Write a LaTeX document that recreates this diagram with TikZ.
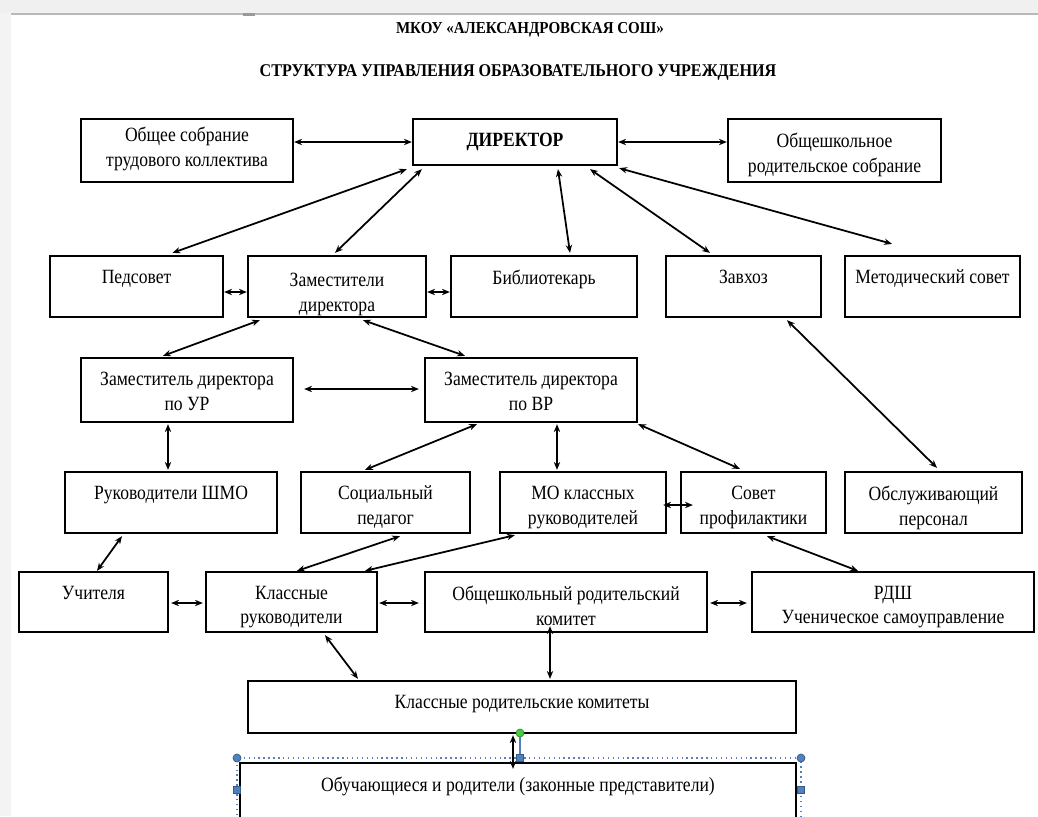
\documentclass[tikz,border=0pt]{standalone}
\usepackage{fontspec}
\setmainfont{Liberation Serif}
\newfontfamily\boxfont[FakeStretch=0.87]{Liberation Serif}
\newfontfamily\headfont[FakeStretch=0.9]{Liberation Serif}
\usetikzlibrary{shapes,arrows.meta}
\usetikzlibrary{calc}
\definecolor{selblue}{RGB}{79,129,189}
\definecolor{selgreen}{RGB}{70,205,60}
\definecolor{pagegray}{RGB}{243,243,243}
\tikzset{
  box/.style 2 args={draw, rectangle, line width=1.3pt, minimum width=#1*0.02cm, minimum height=#2*0.02cm, inner sep=0pt},
  txt/.style={anchor=north, yshift=-8pt, align=center, inner sep=0pt, font=\boxfont\fontsize{11.5}{14.2}\selectfont},
  head/.style={font=\headfont\bfseries\fontsize{9.5}{11}\selectfont, inner sep=0pt},
  grip/.style={draw=selblue!70!black, fill=selblue, line width=0.4pt}
}

\begin{document}
\begin{tikzpicture}[> = {Stealth[length=4.5pt,width=3.6pt]}, x=0.02cm, y=-0.02cm, line width=1pt]
        \useasboundingbox (0,0) rectangle (1038,816);
        \clip (0,0) rectangle (1038,816);
        % page
        \fill[white] (0,0) rectangle (1038,816);
        \fill[pagegray] (0,0) rectangle (11,816);
        \fill[gray!12] (0,0) rectangle (1038,13);
        \fill[gray!55] (11,12.5) rectangle (1038,14.5);
        \fill[gray!80] (243,12.5) rectangle (255,15.5);

        \node[head] (t_school) at (530,30) {МКОУ «АЛЕКСАНДРОВСКАЯ СОШ»};
        \node[head, font=\headfont\bfseries\fontsize{10.2}{11}\selectfont] (t_struct) at (518,72) {СТРУКТУРА УПРАВЛЕНИЯ ОБРАЗОВАТЕЛЬНОГО УЧРЕЖДЕНИЯ};

        % row 1
        \node[box={212}{63}, label={[txt,yshift=3pt]north:{Общее собрание\\трудового коллектива}}] (b_obsh) at (187,150.5) {};
        \node[box={204}{46}, label={[txt,font=\boxfont\bfseries\fontsize{11.5}{14.2}\selectfont]north:ДИРЕКТОР}] (b_dir) at (515,142) {};
        \node[box={213}{63}, label={[txt]north:{Общешкольное\\родительское собрание}}] (b_sobr) at (834.5,150.5) {};
        % row 2
        \node[box={173}{61}, label={[txt]north:Педсовет}] (b_ped) at (136.5,286.5) {};
        \node[box={178}{61}, label={[txt,yshift=-2pt]north:{Заместители\\директора}}] (b_zam) at (337,286.5) {};
        \node[box={186}{61}, label={[txt]north:Библиотекарь}] (b_bib) at (544,286.5) {};
        \node[box={155}{61}, label={[txt]north:Завхоз}] (b_zav) at (743.5,286.5) {};
        \node[box={175}{61}, label={[txt]north:Методический совет}] (b_met) at (932.5,286.5) {};
        % row 3
        \node[box={212}{64}, label={[txt]north:{Заместитель директора\\по УР}}] (b_ur) at (187,390) {};
        \node[box={212}{64}, label={[txt]north:{Заместитель директора\\по ВР}}] (b_vr) at (531,390) {};
        % row 4
        \node[box={212}{61}, label={[txt]north:Руководители ШМО}] (b_shmo) at (171,502.5) {};
        \node[box={169}{61}, label={[txt]north:{Социальный\\педагог}}] (b_soc) at (385.5,502.5) {};
        \node[box={166}{61}, label={[txt]north:{МО классных\\руководителей}}] (b_mo) at (583,502.5) {};
        \node[box={145}{61}, label={[txt]north:{Совет\\профилактики}}] (b_sov) at (753.5,502.5) {};
        \node[box={177}{61}, label={[txt]north:{Обслуживающий\\персонал}}] (b_obsl) at (933.5,502.5) {};
        % row 5
        \node[box={149}{60}, label={[txt]north:Учителя}] (b_uch) at (93.5,602) {};
        \node[box={171}{60}, label={[txt]north:{Классные\\руководители}}] (b_kr) at (291.5,602) {};
        \node[box={282}{60}, label={[txt]north:{Общешкольный родительский\\комитет}}] (b_okom) at (566,602) {};
        \node[box={282}{60}, label={[txt]north:{РДШ\\Ученическое самоуправление}}] (b_rdsh) at (893,602) {};
        % rows 6, 7
        \node[box={548}{52}, label={[txt]north:Классные родительские комитеты}] (b_krk) at (522,707) {};
        \node[box={556}{97}, label={[txt]north:Обучающиеся и родители (законные представители)}] (b_obuch) at (518,811.5) {};

        \path[<->] (b_dir.west -| b_obsh.east) edge (b_dir.west)
                   (b_dir.east)                edge (b_dir.east -| b_sobr.west)
                   ($(b_dir.south west)+(-5,3)$) edge ($(b_ped.north)+(36,-2)$)
                   ($(b_dir.south west)+(10,3)$) edge ($(b_zam.north)+(-2,-2)$)
                   ($(b_dir.south)+(43,3)$)      edge ($(b_bib.north)+(26,-2)$)
                   ($(b_dir.south)+(75,3)$)      edge ($(b_zav.north)+(-33.5,-2)$)
                   ($(b_dir.south east)+(1,2)$)  edge ($(b_met.north)+(-40.5,-11)$);
        \path[<->] ($(b_ped.east)+(0,5.5)$)      edge ($(b_zam.west)+(0,5.5)$)
                   ($(b_zam.east)+(0,5.5)$)      edge ($(b_bib.west)+(0,5.5)$)
                   ($(b_zam.south west)+(13,2)$) edge ($(b_ur.north)+(-24,-1)$)
                   ($(b_zam.south)+(26,2)$)      edge ($(b_vr.north)+(-66,-1)$)
                   ($(b_zav.south)+(43.5,2)$)    edge ($(b_obsl.north)+(3.5,-3)$);
        \path[<->] ($(b_ur.east)+(10,-1)$)       edge ($(b_vr.west)+(-5,-1)$)
                   ($(b_ur.south)+(-19,1)$)      edge ($(b_shmo.north)+(-3,-1)$)
                   ($(b_vr.south)+(-54,1)$)      edge ($(b_soc.north)+(-20.5,-1)$)
                   ($(b_vr.south)+(26,1)$)       edge ($(b_mo.north)+(-26,-1)$)
                   ($(b_vr.south east)+(0,1)$)   edge ($(b_sov.north)+(-13.5,-2)$);
        \path[<->] ($(b_mo.east)+(-4,2.5)$)      edge ($(b_sov.west)+(13,2.5)$)
                   ($(b_shmo.south)+(-49,2)$)    edge ($(b_uch.north)+(3.5,0)$)
                   ($(b_soc.south)+(14.5,2)$)    edge ($(b_kr.north)+(5.5,0)$)
                   ($(b_mo.south west)+(16,1)$)  edge ($(b_kr.north)+(73.5,0)$)
                   ($(b_sov.south)+(13.5,2)$)    edge ($(b_rdsh.north)+(-35,0)$);
        \path[<->] ($(b_uch.east)+(2,1)$)        edge ($(b_kr.west)+(-2,1)$)
                   ($(b_kr.east)+(1,1)$)         edge ($(b_okom.west)+(-5,1)$)
                   ($(b_okom.east)+(2,1)$)       edge ($(b_rdsh.west)+(-4,1)$)
                   ($(b_kr.south)+(33.5,2)$)     edge ($(b_krk.north)+(-164,-1)$)
                   ($(b_okom.south)+(-16,-7)$)   edge ($(b_krk.north)+(28,-1)$)
                   ($(b_krk.south)+(-9,1)$)      edge ($(b_obuch.north)+(-5,7)$);

        % selection frame round the last box
        \draw[selblue, dotted, line width=0.8pt] (237,830) -- (237,758) -- (801,758) -- (801,830);
        \draw[selblue, line width=0.6pt] (520,737) -- (520,755);
        \draw[grip] (237,758) circle (4) (801,758) circle (4);
        \draw[grip] (516.5,754.5) rectangle +(7,7)
                    (233.5,786.5) rectangle +(7,7)
                    (797.5,786.5) rectangle +(7,7);
        \draw[draw=selgreen!70!black, fill=selgreen, line width=0.4pt] (520,733) circle (4);
\end{tikzpicture}
\end{document}
